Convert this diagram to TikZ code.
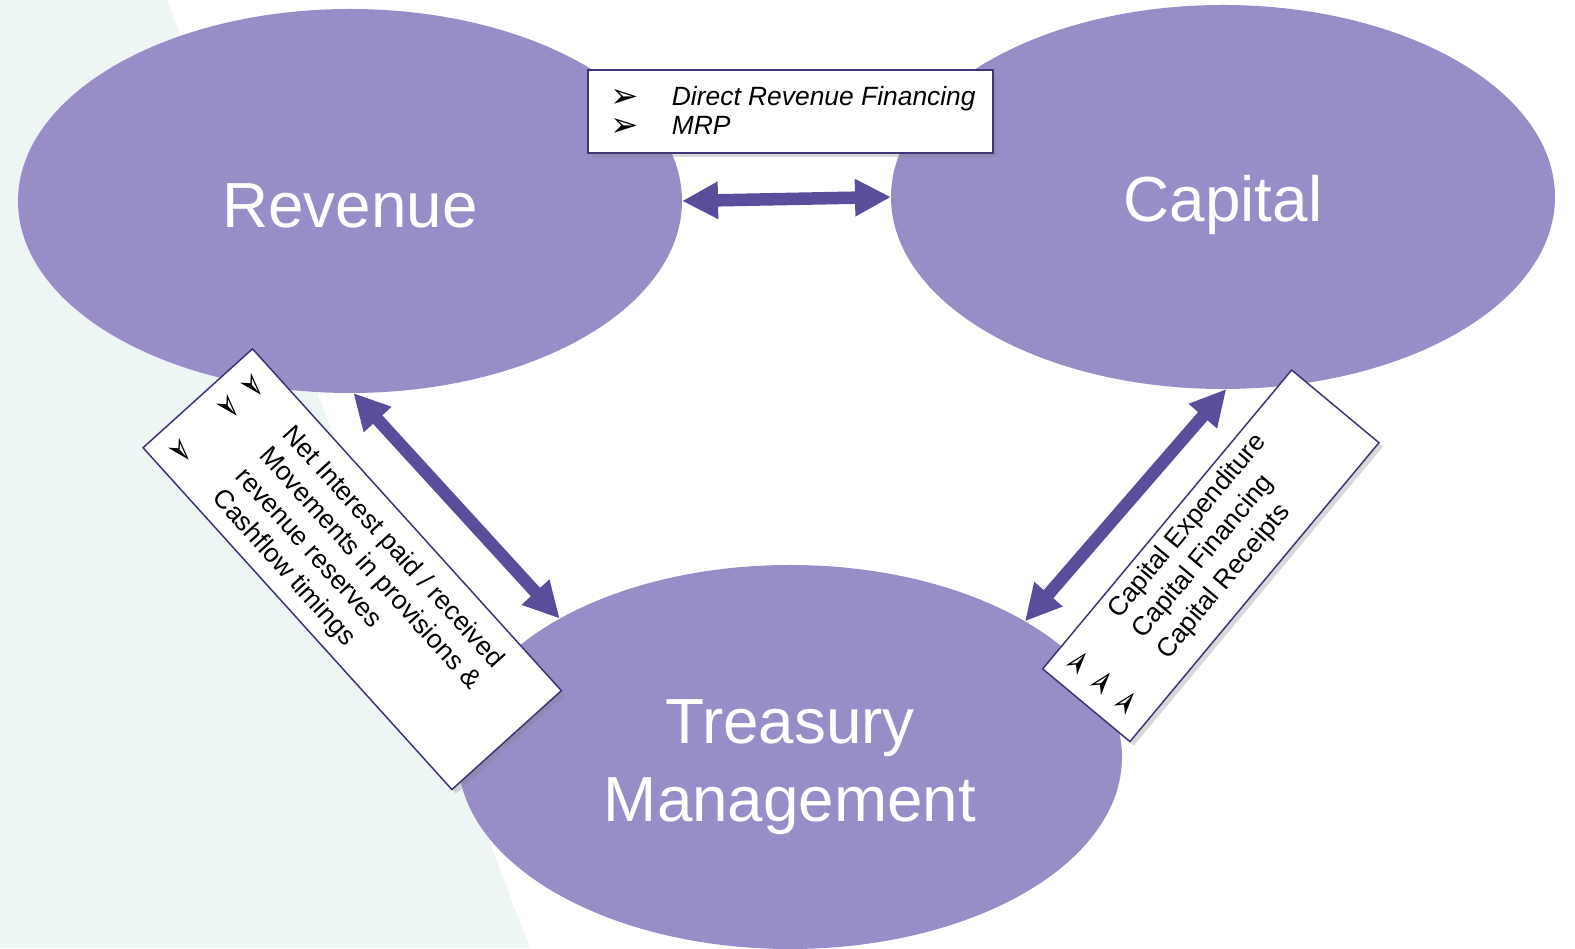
\documentclass[tikz,border=0pt]{standalone}
\usepackage{fontspec}
\setmainfont{Liberation Sans}
\newfontfamily\dingfont{DejaVu Sans}
\usepackage{tikz}
\usetikzlibrary{shapes.geometric,arrows.meta,shadows}
\definecolor{ovalfill}{RGB}{153,141,199}
\definecolor{flowarrow}{RGB}{91,76,156}
\definecolor{boxline}{RGB}{61,53,120}
\definecolor{mintback}{RGB}{237,246,244}
\newcommand{\bulletarrow}{{\dingfont\char"27A2}}

\tikzset{
	oval/.style={ellipse,fill=ovalfill,minimum width=664bp,minimum height=384bp,inner sep=0pt,outer sep=0pt},
	ovaltext/.style={text=white,inner sep=0pt,font=\fontsize{64}{78}\selectfont,align=center},
	flow/.style={draw=flowarrow,line width=12.5bp,{Triangle[length=36bp,width=35bp]}-{Triangle[length=36bp,width=35bp]}},
	notebox/.style={draw=boxline,line width=1.5bp,fill=white,inner sep=0pt,drop shadow={shadow xshift=4bp,shadow yshift=-4bp,opacity=0.3}},
	notetext/.style={inner sep=0pt,anchor=north west,align=left},
	bulletmark/.style={inner sep=0pt,font=\fontsize{34}{34}\selectfont}
}

\begin{document}
\begin{tikzpicture}[x=1bp,y=1bp]
	\useasboundingbox (0,0) rectangle (1575,948);
	\fill[white] (0,0) rectangle (1575,948);
	\fill[mintback] (0,0) -- (530,0) -- (167,948) -- (0,948) -- cycle;

	\node[oval] (rev) at (350,747) {};
	\node[oval] (cap) at (1223,751) {};
	\node[oval] (tre) at (790,191) {};
	\node[ovaltext] (revlabel) at ([yshift=-5bp]rev.center) {Revenue};
	\node[ovaltext] (caplabel) at ([yshift=-8bp]cap.center) {Capital};
	\node[ovaltext] (trelabel) at ([yshift=-10bp]tre.center) {Treasury\\Management};

	\draw[flow] (rev.0) -- (cap.180);
	\draw[flow] (rev.-89) -- (tre.149);
	\draw[flow] (cap.-89) -- (tre.30);

	% revenue -> capital
	\node[notebox,minimum width=405bp,minimum height=83bp] (dirbox) at (790.5,836.5) {};
	\node[bulletmark] (dirb1) at (625,850) {\bulletarrow};
	\node[bulletmark] (dirb2) at (625,820.5) {\bulletarrow};
	\node[notetext,font=\fontsize{26.5}{28.5}\selectfont\itshape] (dirtext) at (671.7,861.4) {Direct Revenue Financing\\MRP};

	% revenue -> treasury
	\begin{scope}[shift={(352.2,378.8)},rotate=-47.9,transform shape]
		\node[notebox,minimum width=460.7bp,minimum height=147.5bp] (revbox) at (0,0) {};
		\node[bulletmark] (revb1) at (-202.6,47.7) {\bulletarrow};
		\node[bulletmark] (revb2) at (-202.6,15.9) {\bulletarrow};
		\node[bulletmark] (revb3) at (-202.6,-49.1) {\bulletarrow};
		\node[notetext,font=\fontsize{26.5}{31.8}\selectfont] (revtext) at (-146.8,57) {Net Interest paid / received\\Movements in provisions \&\\revenue reserves\\Cashflow timings};
	\end{scope}

	% capital -> treasury
	\begin{scope}[shift={(1210.8,392.2)},rotate=50.2,transform shape]
		\node[notebox,minimum width=389bp,minimum height=113.6bp] (capbox) at (0,0) {};
		\node[bulletmark] (capb1) at (-167,32) {\bulletarrow};
		\node[bulletmark] (capb2) at (-167,1) {\bulletarrow};
		\node[bulletmark] (capb3) at (-167,-31) {\bulletarrow};
		\node[notetext,font=\fontsize{26.5}{32}\selectfont] (captext) at (-107.6,49.2) {Capital Expenditure\\Capital Financing\\Capital Receipts};
	\end{scope}
\end{tikzpicture}
\end{document}
